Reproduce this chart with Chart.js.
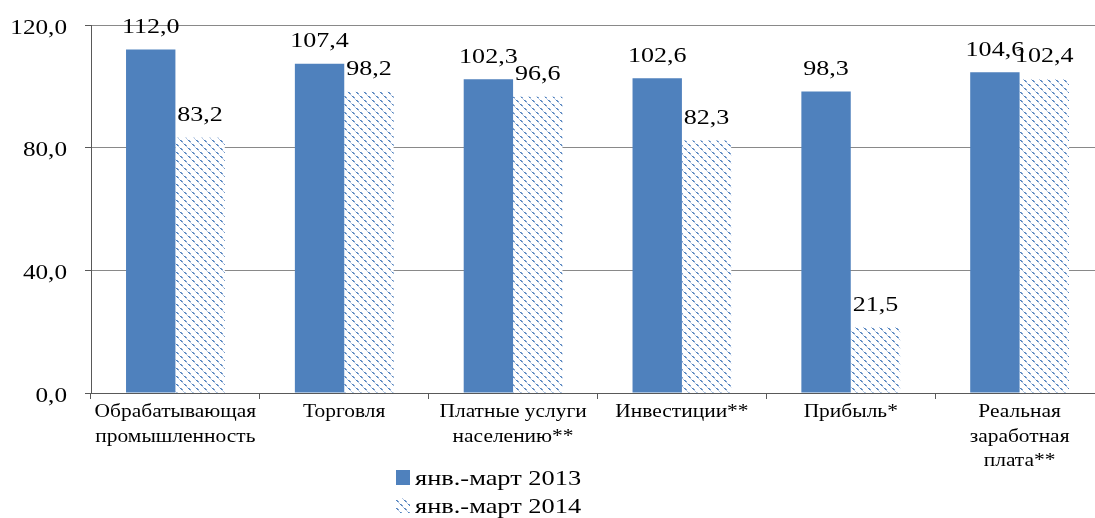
<!DOCTYPE html>
<html>
<head>
<meta charset="utf-8">
<script src="https://cdn.jsdelivr.net/npm/chart.js@4"></script>
<style>
  html, body { margin: 0; padding: 0; background: #fff; overflow: hidden; }
  #wrap { width: 1095px; height: 518px; overflow: hidden; }
</style>
</head>
<body>
<div id="wrap"><canvas id="chart" width="1105" height="518"></canvas></div>
<script>
const categories = [
    ['Обрабатывающая', 'промышленность'],
    ['Торговля'],
    ['Платные услуги', 'населению**'],
    ['Инвестиции**'],
    ['Прибыль*'],
    ['Реальная', 'заработная', 'плата**']
];
const series2013 = [112.0, 107.4, 102.3, 102.6, 98.3, 104.6];
const series2014 = [83.2, 98.2, 96.6, 82.3, 21.5, 102.4];
const seriesNames = ['янв.-март 2013', 'янв.-март 2014'];
const yTicks = [0, 40, 80, 120];

const BLUE = '#4f81bd';
const SERIF = '"Liberation Serif", "Times New Roman", serif';

function fmt(v) {
    return v.toFixed(1).replace('.', ',');
}

// text in the source image is a bit wider than Times, so stretch it horizontally
function stretchedText(ctx, text, x, y, sx, align) {
    ctx.save();
    ctx.translate(x, y);
    ctx.scale(sx, 1);
    ctx.textAlign = align;
    ctx.fillText(text, 0, 0);
    ctx.restore();
}

// dotted diagonal "\" hatch like the office pattern fill
function makeHatch() {
    const c = document.createElement('canvas');
    c.width = 8; c.height = 8;
    const g = c.getContext('2d');
    g.fillStyle = '#fff';
    g.fillRect(0, 0, 8, 8);
    for (let i = 0; i < 8; i++) {
        if (i % 4 < 2) {
            g.fillStyle = BLUE;
            g.fillRect(i, i, 1, 1);
            g.fillStyle = '#7fa2d0';
            g.fillRect((i + 1) % 8, i, 1, 1);
        } else {
            g.fillStyle = '#b3c7e4';
            g.fillRect(i, i, 1, 1);
        }
    }
    return g.createPattern(c, 'repeat');
}
const hatch = makeHatch();

const valueLabels = {
    id: 'valueLabels',
    afterDatasetsDraw(chart) {
        const ctx = chart.ctx;
        ctx.save();
        ctx.font = '21px ' + SERIF;
        ctx.fillStyle = '#000';
        ctx.textBaseline = 'alphabetic';
        chart.data.datasets.forEach((ds, di) => {
            chart.getDatasetMeta(di).data.forEach((bar, i) => {
                stretchedText(ctx, fmt(ds.data[i]), bar.x, bar.y - 16.5, 1.24, 'center');
            });
        });
        ctx.restore();
    }
};

const axisText = {
    id: 'axisText',
    afterDraw(chart) {
        const ctx = chart.ctx;
        const xs = chart.scales.x, ys = chart.scales.y;
        ctx.save();
        ctx.fillStyle = '#000';
        ctx.textBaseline = 'alphabetic';

        ctx.font = '21px ' + SERIF;
        ys.ticks.forEach(t => {
            stretchedText(ctx, fmt(t.value), 67, ys.getPixelForValue(t.value) + 8.5, 1.2, 'right');
        });

        ctx.font = '19.5px ' + SERIF;
        chart.data.labels.forEach((lines, i) => {
            const x = xs.getPixelForTick(i);
            lines.forEach((line, j) => {
                stretchedText(ctx, line, x, xs.top + 24 + j * 24.5, 1.1, 'center');
            });
        });
        ctx.restore();
    }
};

const stackedLegend = {
    id: 'stackedLegend',
    afterDraw(chart) {
        const ctx = chart.ctx;
        ctx.save();
        ctx.font = '22px ' + SERIF;
        ctx.textBaseline = 'alphabetic';
        chart.data.datasets.forEach((ds, i) => {
            const y = 470 + i * 28;
            ctx.fillStyle = ds.backgroundColor;
            ctx.fillRect(396, y, 14, 15);
            ctx.fillStyle = '#000';
            stretchedText(ctx, ds.label, 415, y + 15, 1.2, 'left');
        });
        ctx.restore();
    }
};

const ctx = document.getElementById('chart').getContext('2d');

const chart = new Chart(ctx, {
    type: 'bar',
    data: {
        labels: categories,
        datasets: [{
            label: seriesNames[0],
            data: series2013,
            backgroundColor: BLUE,
            borderWidth: 0
        }, {
            label: seriesNames[1],
            data: series2014,
            backgroundColor: hatch,
            borderWidth: 0
        }]
    },
    options: {
        responsive: false,
        animation: false,
        layout: { padding: { top: 25, right: 1, bottom: 0, left: 0 } },
        datasets: {
            bar: { categoryPercentage: 0.585, barPercentage: 1.0 }
        },
        scales: {
            x: {
                afterFit(scale) { scale.height = 125; },
                grid: {
                    drawOnChartArea: false,
                    drawTicks: true,
                    tickLength: 6,
                    tickColor: '#595959'
                },
                border: { color: '#595959', width: 1 },
                ticks: { display: false, autoSkip: false, maxRotation: 0 }
            },
            y: {
                min: 0,
                max: 120,
                afterFit(scale) { scale.width = 91; },
                afterBuildTicks(scale) {
                    scale.ticks = yTicks.map(v => ({ value: v }));
                },
                grid: {
                    color: '#898989',
                    tickColor: '#595959',
                    tickLength: 6
                },
                border: { color: '#595959', width: 1 },
                ticks: { display: false }
            }
        },
        plugins: {
            legend: { display: false },
            tooltip: { enabled: false }
        }
    },
    plugins: [valueLabels, axisText, stackedLegend]
});
</script>
</body>
</html>
